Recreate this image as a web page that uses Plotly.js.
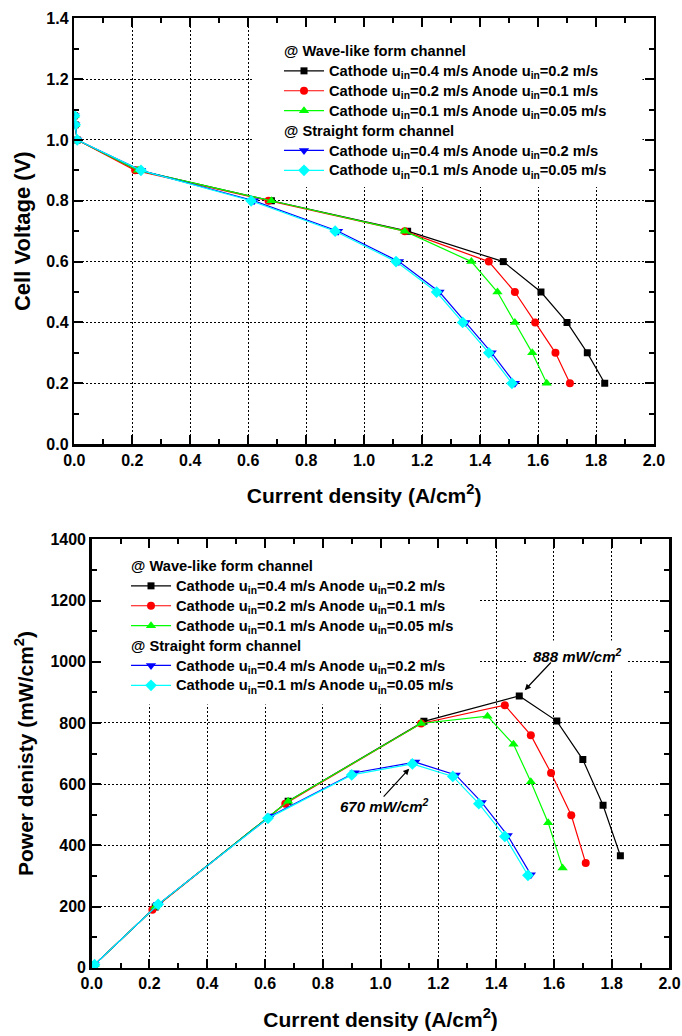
<!DOCTYPE html>
<html>
<head>
<meta charset="utf-8">
<script src="https://cdn.plot.ly/plotly-3.0.1.min.js"></script>
<style>
  html, body { margin: 0; padding: 0; background: #ffffff; }
  #chart { width: 682px; height: 1036px; }
</style>
</head>
<body>
<div id="chart"></div>
<script>
// ---------- data ----------
const cellVoltage = [1.08, 1.05, 1.0, 0.9, 0.8, 0.7, 0.6, 0.5, 0.4, 0.3, 0.2];

const currentWaveC04 = [0.001, 0.003, 0.01, 0.22, 0.68, 1.15, 1.48, 1.61, 1.70, 1.77, 1.83];
const currentWaveC02 = [0.001, 0.003, 0.01, 0.21, 0.67, 1.14, 1.43, 1.52, 1.59, 1.66, 1.71];
const currentWaveC01 = [0.001, 0.003, 0.01, 0.22, 0.68, 1.14, 1.37, 1.46, 1.52, 1.58, 1.63];
const currentStraightC04 = [0.001, 0.003, 0.01, 0.23, 0.62, 0.91, 1.12, 1.26, 1.35, 1.44, 1.52];
const currentStraightC01 = [0.001, 0.003, 0.01, 0.23, 0.61, 0.90, 1.11, 1.25, 1.34, 1.43, 1.51];

const powerWaveC04 = [1, 3, 10, 198, 544, 805, 888, 806, 680, 531, 366];
const powerWaveC02 = [1, 3, 10, 189, 536, 798, 858, 760, 636, 498, 342];
const powerWaveC01 = [1, 3, 10, 198, 544, 798, 822, 730, 608, 474, 326];
const powerStraightC04 = [1, 3, 10, 207, 496, 637, 672, 630, 540, 432, 304];
const powerStraightC01 = [1, 3, 10, 207, 488, 630, 666, 625, 536, 429, 302];

const groupTitles = ['@ Wave-like form channel', '@ Straight form channel'];
const seriesNames = [
  'Cathode u<sub>in</sub>=0.4 m/s Anode u<sub>in</sub>=0.2 m/s',
  'Cathode u<sub>in</sub>=0.2 m/s Anode u<sub>in</sub>=0.1 m/s',
  'Cathode u<sub>in</sub>=0.1 m/s Anode u<sub>in</sub>=0.05 m/s',
  'Cathode u<sub>in</sub>=0.4 m/s Anode u<sub>in</sub>=0.2 m/s',
  'Cathode u<sub>in</sub>=0.1 m/s Anode u<sub>in</sub>=0.05 m/s'
];
const peakLabels = ['888 mW/cm<sup>2</sup>', '670 mW/cm<sup>2</sup>'];
const xTitle = 'Current density (A/cm<sup>2</sup>)';
const yTitleTop = 'Cell Voltage (V)';
const yTitleBottom = 'Power denisty (mW/cm<sup>2</sup>)';

// ---------- styling ----------
const FONT = 'Liberation Sans, Arial, Helvetica, sans-serif';
const colors = ['#000000', '#ff0000', '#00ff00', '#0000ff', '#00ffff'];
const symbols = ['square', 'circle', 'triangle-up', 'triangle-down', 'diamond'];
const msizes = [7, 8, 9, 9, 9];
const groups = ['wave', 'wave', 'wave', 'straight', 'straight'];

const currents = [currentWaveC04, currentWaveC02, currentWaveC01, currentStraightC04, currentStraightC01];
const powers = [powerWaveC04, powerWaveC02, powerWaveC01, powerStraightC04, powerStraightC01];

function nm(t) { return '<span style="font-size:14.7px">' + t + '</span>'; }
// trailing no-break spaces nudge the rotated y titles down, as in the reference
function pad(t, n) { return t + '\u00a0'.repeat(n); }

const traces = [];
for (let k = 0; k < 2; k++) {
  for (let i = 0; i < 5; i++) {
    const t = {
      type: 'scatter',
      mode: 'lines+markers',
      x: currents[i],
      y: k === 0 ? cellVoltage : powers[i],
      xaxis: k === 0 ? 'x' : 'x2',
      yaxis: k === 0 ? 'y' : 'y2',
      legend: k === 0 ? 'legend' : 'legend2',
      name: nm(seriesNames[i]),
      legendgroup: groups[i] + k,
      line: { color: colors[i], width: 1.2 },
      marker: { color: colors[i], symbol: symbols[i], size: msizes[i], line: { width: 0 } },
      hoverinfo: 'skip'
    };
    if (i === 0) t.legendgrouptitle = { text: nm(groupTitles[0]), font: { family: FONT, size: 13, color: '#000', weight: 'bold' } };
    if (i === 3) t.legendgrouptitle = { text: nm(groupTitles[1]), font: { family: FONT, size: 13, color: '#000', weight: 'bold' } };
    traces.push(t);
  }
}

const tickFont = { family: FONT, size: 16, color: '#000', weight: 'bold' };
const titleFont = { family: FONT, size: 21, color: '#000', weight: 'bold' };
const titleFontY1 = { family: FONT, size: 22, color: '#000', weight: 'bold' };

function axisBase(extra) {
  return Object.assign({
    showline: true, linecolor: '#000', linewidth: 2.5, mirror: 'allticks',
    ticks: 'inside', ticklen: 9, tickwidth: 2, tickcolor: '#000',
    showgrid: true, gridcolor: '#000', gridwidth: 1, griddash: '2px,2px',
    zeroline: false, tickfont: tickFont, automargin: false, fixedrange: true
  }, extra);
}

const legendBase = {
  xref: 'paper', yref: 'paper', xanchor: 'left', yanchor: 'top',
  bgcolor: 'rgba(0,0,0,0)', borderwidth: 0,
  font: { family: FONT, size: 13, color: '#000', weight: 'bold' },
  tracegroupgap: 0, itemwidth: 40, traceorder: 'grouped'
};

const layout = {
  width: 682, height: 1036,
  margin: { l: 0, r: 0, t: 0, b: 0, pad: 0 },
  paper_bgcolor: '#ffffff', plot_bgcolor: '#ffffff',
  showlegend: true,
  xaxis: axisBase({
    domain: [0.10894, 0.95894], anchor: 'y', range: [0, 2], dtick: 0.2, tickformat: '.1f',
    minor: { ticks: 'inside', ticklen: 5, tickwidth: 2, tickcolor: '#000', dtick: 0.1, showgrid: false },
    title: { text: xTitle, font: titleFont, standoff: 21 }
  }),
  yaxis: axisBase({
    domain: [0.57133, 0.98234], anchor: 'x', range: [0, 1.4], dtick: 0.2, tickformat: '.1f',
    minor: { ticks: 'inside', ticklen: 5, tickwidth: 2, tickcolor: '#000', dtick: 0.1, showgrid: false },
    title: { text: pad(yTitleTop, 4), font: titleFontY1, standoff: 10 }
  }),
  xaxis2: axisBase({
    domain: [0.13446, 0.98167], anchor: 'y2', range: [0, 2], dtick: 0.2, tickformat: '.1f',
    minor: { ticks: 'inside', ticklen: 5, tickwidth: 2, tickcolor: '#000', dtick: 0.1, showgrid: false },
    title: { text: xTitle, font: titleFont, standoff: 21 }
  }),
  yaxis2: axisBase({
    domain: [0.06593, 0.47944], anchor: 'x2', range: [0, 1400], dtick: 200,
    minor: { ticks: 'inside', ticklen: 5, tickwidth: 2, tickcolor: '#000', dtick: 100, showgrid: false },
    title: { text: pad(yTitleBottom, 6), font: titleFont, standoff: 11 }
  }),
  legend: Object.assign({}, legendBase, { x: 279 / 682, y: 1 - 36 / 1036 }),
  legend2: Object.assign({}, legendBase, { x: 126 / 682, y: 1 - 551 / 1036 }),
  shapes: [
    { type: 'rect', xref: 'x', yref: 'y', x0: 0.62, x1: 1.96, y0: 0.845, y1: 1.39,
      fillcolor: '#ffffff', line: { width: 0 }, layer: 'between' },
    { type: 'rect', xref: 'x2', yref: 'y2', x0: 0.01, x1: 1.34, y0: 860, y1: 1390,
      fillcolor: '#ffffff', line: { width: 0 }, layer: 'between' }
  ],
  annotations: [
    { xref: 'x2', yref: 'y2', x: 1.68, y: 1020, text: peakLabels[0], showarrow: false,
      bgcolor: '#ffffff', borderpad: 5,
      font: { family: FONT, size: 15, color: '#000', weight: 'bold', style: 'italic' } },
    { xref: 'x2', yref: 'y2', x: currentWaveC04[6], y: powerWaveC04[6], text: '', showarrow: true,
      ax: 33, ay: -35, arrowhead: 2, arrowsize: 1, arrowwidth: 1.2, arrowcolor: '#000', standoff: 8 },
    { xref: 'x2', yref: 'y2', x: 1.012, y: 530, text: peakLabels[1], showarrow: false,
      bgcolor: '#ffffff', borderpad: 2,
      font: { family: FONT, size: 15, color: '#000', weight: 'bold', style: 'italic' } },
    { xref: 'x2', yref: 'y2', x: currentStraightC04[6], y: powerStraightC04[6], text: '', showarrow: true,
      ax: -33, ay: 36, arrowhead: 2, arrowsize: 1, arrowwidth: 1.2, arrowcolor: '#000', standoff: 9 }
  ]
};

Plotly.newPlot('chart', traces, layout, { displayModeBar: false, staticPlot: true });
</script>
</body>
</html>
